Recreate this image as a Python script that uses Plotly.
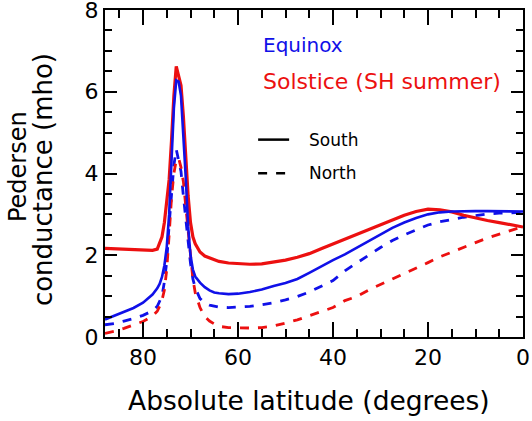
import plotly.graph_objects as go

# Absolute latitude (degrees)
lat = [88, 86, 84, 82, 80, 78, 77, 76.5, 76, 75.5, 75, 74.5, 74, 73.5, 73, 72.5, 72,
       71.5, 71, 70.5, 70, 69.5, 69, 68, 67, 66, 65, 64, 62, 60, 57.5, 55, 52.5, 50,
       47.5, 45, 42.5, 40, 37.5, 35, 32.5, 30, 27.5, 25, 22.5, 20, 17.5, 15, 12.5, 10,
       7.5, 5, 2.5, 0]

# Pedersen conductance (mho)
equinox_south = [0.43, 0.52, 0.62, 0.71, 0.84, 1.04, 1.19, 1.30, 1.47, 1.75, 2.2, 3.0, 4.3,
                 5.6, 6.28, 6.25, 5.9, 5.0, 3.9, 2.7, 2.0, 1.65, 1.48, 1.33, 1.22, 1.14, 1.09,
                 1.07, 1.05, 1.06, 1.10, 1.16, 1.25, 1.32, 1.42, 1.57, 1.73, 1.88, 2.02, 2.18,
                 2.34, 2.52, 2.67, 2.80, 2.91, 3.00, 3.05, 3.07, 3.08, 3.08, 3.08, 3.08, 3.08,
                 3.07]
equinox_north = [0.30, 0.33, 0.39, 0.45, 0.53, 0.64, 0.75, 0.86, 1.0, 1.35, 1.85, 2.75, 3.6,
                 4.2, 4.59, 4.35, 4.05, 3.45, 2.9, 2.3, 1.8, 1.42, 1.2, 0.94, 0.83, 0.78, 0.75,
                 0.73, 0.72, 0.73, 0.75, 0.79, 0.84, 0.91, 0.99, 1.10, 1.24, 1.38, 1.62, 1.80,
                 2.00, 2.19, 2.36, 2.50, 2.62, 2.74, 2.82, 2.88, 2.93, 2.97, 3.01, 3.03, 3.04,
                 3.05]
solstice_south = [2.17, 2.16, 2.15, 2.15, 2.14, 2.12, 2.15, 2.28, 2.45, 2.8, 3.25, 3.85, 4.8,
                  5.9, 6.62, 6.35, 6.15, 5.4, 4.3, 3.45, 2.8, 2.45, 2.28, 2.08, 1.98, 1.93, 1.89,
                  1.85, 1.81, 1.79, 1.78, 1.79, 1.83, 1.88, 1.95, 2.04, 2.16, 2.28, 2.40, 2.52,
                  2.63, 2.75, 2.87, 2.98, 3.07, 3.13, 3.11, 3.06, 2.98, 2.91, 2.85, 2.80, 2.74,
                  2.69]
solstice_north = [0.09, 0.14, 0.21, 0.29, 0.38, 0.51, 0.63, 0.75, 0.90, 1.15, 1.65, 2.5, 3.4,
                  4.0, 4.33, 4.38, 4.15, 3.8, 3.2, 2.6, 1.95, 1.42, 1.08, 0.72, 0.50, 0.39, 0.32,
                  0.26, 0.23, 0.22, 0.22, 0.23, 0.27, 0.34, 0.42, 0.52, 0.62, 0.72, 0.89, 0.99,
                  1.15, 1.28, 1.43, 1.56, 1.69, 1.82, 1.96, 2.08, 2.19, 2.31, 2.42, 2.52, 2.61,
                  2.70]

BLUE = "#1010e8"
RED = "#ec1010"
FONT = "DejaVu Sans"

# helpers to place text in paper coordinates from pixel positions
W, H = 417.7, 326.7
def px(x):
    return (x - 105) / W
def py(y):
    return (336.7 - y) / H

fig = go.Figure()
fig.add_trace(go.Scatter(x=lat, y=equinox_north, mode="lines",
                         line=dict(color=BLUE, width=2.8, dash="dash")))
fig.add_trace(go.Scatter(x=lat, y=solstice_north, mode="lines",
                         line=dict(color=RED, width=2.8, dash="dash")))
fig.add_trace(go.Scatter(x=lat, y=solstice_south, mode="lines",
                         line=dict(color=RED, width=3.2)))
fig.add_trace(go.Scatter(x=lat, y=equinox_south, mode="lines",
                         line=dict(color=BLUE, width=2.6)))

# legend sample lines on an overlay axis spanning the plot area
fig.add_trace(go.Scatter(x=[px(258), px(289)], y=[py(139.5), py(139.5)], mode="lines",
                         xaxis="x2", yaxis="y2", line=dict(color="black", width=2.5)))
fig.add_trace(go.Scatter(x=[px(258), px(289)], y=[py(173), py(173)], mode="lines",
                         xaxis="x2", yaxis="y2",
                         line=dict(color="black", width=2.5, dash="dash")))

fig.update_layout(
    template="none",
    xaxis=dict(range=[88, 0], tick0=0, dtick=20,
               showline=True, linewidth=2, linecolor="black", mirror="allticks",
               ticks="inside", ticklen=15, tickwidth=2, tickcolor="black",
               showgrid=False, zeroline=False, ticklabeloverflow="allow",
               tickfont=dict(family=FONT, size=22, color="black"),
               minor=dict(dtick=5, ticks="inside", ticklen=8, tickwidth=2,
                          tickcolor="black", showgrid=False)),
    yaxis=dict(range=[0, 8], tick0=0, dtick=2,
               showline=True, linewidth=2, linecolor="black", mirror="allticks",
               ticks="inside", ticklen=12, tickwidth=2, tickcolor="black",
               showgrid=False, zeroline=False, ticklabeloverflow="allow",
               tickfont=dict(family=FONT, size=22, color="black"),
               minor=dict(dtick=0.5, ticks="inside", ticklen=7, tickwidth=2,
                          tickcolor="black", showgrid=False)),
    xaxis2=dict(overlaying="x", range=[0, 1], visible=False),
    yaxis2=dict(overlaying="y", range=[0, 1], visible=False),
)

annotations = [
    dict(text="Equinox", x=px(261), y=py(45), color=BLUE, size=20),
    dict(text="Solstice (SH summer)", x=px(261), y=py(81), color=RED, size=22),
    dict(text="South", x=px(307), y=py(139.5), color="black", size=17),
    dict(text="North", x=px(307), y=py(173), color="black", size=17),
]
for a in annotations:
    fig.add_annotation(text=a["text"], xref="paper", yref="paper", x=a["x"], y=a["y"],
                       xanchor="left", yanchor="middle", showarrow=False,
                       font=dict(family=FONT, size=a["size"], color=a["color"]))

# axis titles
fig.add_annotation(text="Absolute latitude (degrees)", xref="paper", yref="paper",
                   x=px(309), y=py(400), xanchor="center", yanchor="middle",
                   showarrow=False, font=dict(family=FONT, size=26.5, color="black"))
fig.add_annotation(text="Pedersen", xref="paper", yref="paper",
                   x=px(18), y=py(166), xanchor="center", yanchor="middle", textangle=-90,
                   showarrow=False, font=dict(family=FONT, size=24, color="black"))
fig.add_annotation(text="conductance (mho)", xref="paper", yref="paper",
                   x=px(43), y=py(179), xanchor="center", yanchor="middle", textangle=-90,
                   showarrow=False, font=dict(family=FONT, size=26, color="black"))

fig.update_layout(width=532, height=421, margin=dict(l=105, r=9, t=10, b=84),
                  paper_bgcolor="white", plot_bgcolor="rgba(0,0,0,0)", showlegend=False)

fig.write_html("out.html")
